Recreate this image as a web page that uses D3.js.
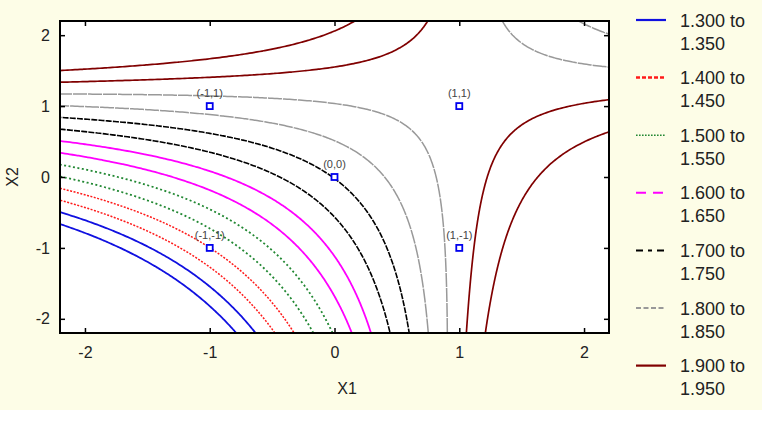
<!DOCTYPE html>
<html>
<head>
<meta charset="utf-8">
<script src="https://cdn.jsdelivr.net/npm/d3@7"></script>
<style>
  html, body { margin: 0; padding: 0; background: #ffffff; }
  svg { display: block; font-family: "Liberation Sans", Arial, sans-serif; }
</style>
</head>
<body>
<svg id="chart" width="776" height="424"></svg>
<script>
// ---- data ----
// fitted response surface: y = b0 + b1*X1 + b2*X2 + b12*X1*X2 + b11*X1^2 + b22*X2^2
const modelTerms = ["1", "X1", "X2", "X1*X2", "X1^2", "X2^2"];
const modelCoefs = [1.752, 0.119, 0.093, -0.0936, 0.00155, 0.00155];
const contourLevels = [1.30, 1.35, 1.40, 1.45, 1.50, 1.55, 1.60, 1.65, 1.70, 1.75, 1.80, 1.85, 1.90, 1.95];
const legendFrom = [1.300, 1.400, 1.500, 1.600, 1.700, 1.800, 1.900];
const legendTo   = [1.350, 1.450, 1.550, 1.650, 1.750, 1.850, 1.950];
const pointX1 = [-1, 1, 0, -1, 1];
const pointX2 = [1, 1, 0, -1, -1];
const pointLabels = ["(-1,1)", "(1,1)", "(0,0)", "(-1,-1)", "(1,-1)"];
const axisTicks = [-2, -1, 0, 1, 2];
const axisDomain = [-2.2, 2.2];

// ---- styles ----
const bandColors = ["#1010e0", "#ff1a1a", "#228833", "#ff00ff", "#000000", "#999999", "#800000"];
const plotDash   = [null, "2,1.5", "2,2.5", null, "6,1.2", "14,1", null];
const plotWidth  = [1.8, 1.5, 1.8, 1.8, 1.6, 1.5, 1.7];
const legendDash = [null, "4,2", "1.6,1.4", "10,7", "7,5,4,5", "5,2.5", null];
const legendWidth= [2.2, 2.5, 1.5, 2, 2, 2, 2.2];

const svg = d3.select("#chart");
svg.append("rect").attr("x", 0).attr("y", 0).attr("width", 762).attr("height", 410).attr("fill", "#fdfde7");

const L = 60, R = 609, T = 21, B = 333;
const x = d3.scaleLinear().domain(axisDomain).range([L, R]);
const y = d3.scaleLinear().domain(axisDomain).range([B, T]);

svg.append("rect").attr("x", L).attr("y", T).attr("width", R - L).attr("height", B - T).attr("fill", "#ffffff");

svg.append("clipPath").attr("id", "plotclip")
  .append("rect").attr("x", L).attr("y", T).attr("width", R - L).attr("height", B - T);

// ---- grid of the fitted surface ----
const gridMin = -2.6, gridStep = 0.02;
const n = Math.round((2.6 - gridMin) / gridStep) + 1;
const gridVals = d3.range(n).map(i => gridMin + i * gridStep);
const model = (a, b) => modelCoefs[0] + modelCoefs[1] * a + modelCoefs[2] * b + modelCoefs[3] * a * b
  + modelCoefs[4] * a * a + modelCoefs[5] * b * b;
const values = new Array(n * n);
for (let j = 0; j < n; j++) for (let i = 0; i < n; i++) values[j * n + i] = model(gridVals[i], gridVals[j]);

const gx = g => x(gridMin + (g - 0.5) * gridStep);
const gy = g => y(gridMin + (g - 0.5) * gridStep);
const path = d3.geoPath(d3.geoTransform({ point(px, py) { this.stream.point(gx(px), gy(py)); } }));

const contourGen = d3.contours().size([n, n]);
const gLines = svg.append("g").attr("clip-path", "url(#plotclip)");
contourLevels.forEach((lv, k) => {
  const band = Math.floor(k / 2);
  const geom = contourGen.contour(values, lv);
  gLines.append("path")
    .attr("d", path(geom))
    .attr("fill", "none")
    .attr("stroke", bandColors[band])
    .attr("stroke-width", plotWidth[band])
    .attr("stroke-dasharray", plotDash[band]);
});

// ---- design points ----
const gPts = svg.append("g");
pointX1.forEach((px, i) => {
  const cx = x(px), cy = y(pointX2[i]);
  gPts.append("rect").attr("x", cx - 3).attr("y", cy - 3).attr("width", 6).attr("height", 6)
    .attr("fill", "#ffffff").attr("stroke", "#0000ee").attr("stroke-width", 1.8);
  gPts.append("text").attr("x", cx).attr("y", cy - 9).attr("text-anchor", "middle")
    .attr("font-size", 11).attr("fill", "#444444").text(pointLabels[i]);
});

// ---- frame & axes ----
svg.append("rect").attr("x", L).attr("y", T).attr("width", R - L).attr("height", B - T)
  .attr("fill", "none").attr("stroke", "#000").attr("stroke-width", 2);

const tickFmt = d => String(d);
function styleAxis(g, showText) {
  g.select(".domain").remove();
  g.selectAll(".tick line").attr("stroke", "#000").attr("stroke-width", 1.5);
  g.selectAll(".tick text").attr("font-size", 16).attr("fill", "#222")
    .attr("font-family", "'Liberation Sans', Arial, sans-serif");
  if (!showText) g.selectAll(".tick text").remove();
}
svg.append("g").attr("transform", `translate(0,${B})`)
  .call(d3.axisBottom(x).tickValues(axisTicks).tickFormat(tickFmt).tickSize(-5).tickPadding(14))
  .call(g => styleAxis(g, true));
svg.append("g").attr("transform", `translate(0,${T})`)
  .call(d3.axisTop(x).tickValues(axisTicks).tickSize(-5))
  .call(g => styleAxis(g, false));
svg.append("g").attr("transform", `translate(${L},0)`)
  .call(d3.axisLeft(y).tickValues(axisTicks).tickFormat(tickFmt).tickSize(-5).tickPadding(10))
  .call(g => styleAxis(g, true));
svg.append("g").attr("transform", `translate(${R},0)`)
  .call(d3.axisRight(y).tickValues(axisTicks).tickSize(-5))
  .call(g => styleAxis(g, false));

svg.append("text").attr("x", 347).attr("y", 394).attr("text-anchor", "middle")
  .attr("font-size", 16).attr("fill", "#222").text("X1");
svg.append("text").attr("transform", "translate(18,177) rotate(-90)").attr("text-anchor", "middle")
  .attr("font-size", 16).attr("fill", "#222").text("X2");

// ---- legend ----
const fmt = d3.format(".3f");
const gLeg = svg.append("g");
legendFrom.forEach((v, i) => {
  const yy = 20 + i * 57.6;
  gLeg.append("line").attr("x1", 636).attr("x2", 666).attr("y1", yy).attr("y2", yy)
    .attr("stroke", bandColors[i]).attr("stroke-width", legendWidth[i])
    .attr("stroke-dasharray", legendDash[i]);
  gLeg.append("text").attr("x", 680).attr("y", yy + 6.5).attr("font-size", 18).attr("fill", "#222")
    .text(fmt(v) + " to");
  gLeg.append("text").attr("x", 680).attr("y", yy + 29.5).attr("font-size", 18).attr("fill", "#222")
    .text(fmt(legendTo[i]));
});
</script>
</body>
</html>
